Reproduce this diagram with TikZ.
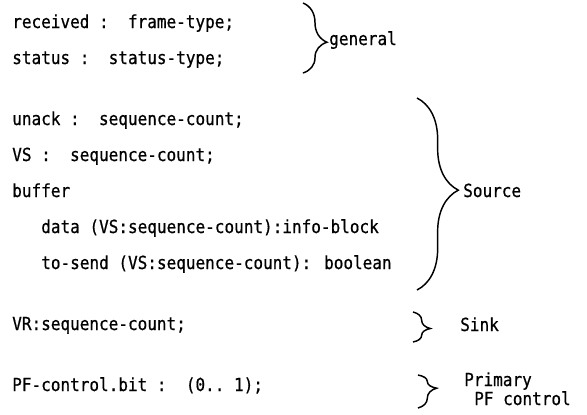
\documentclass[tikz,border=0pt]{standalone}
\usepackage{fontspec}
\newfontfamily\typefont[FakeStretch=0.89, FakeBold=0.6]{DejaVu Sans Mono}
\usetikzlibrary{decorations.pathreplacing}

\tikzset{
    decl/.style={anchor=base west, inner sep=0pt, font=\typefont\fontsize{13.5pt}{16pt}\selectfont},
    groupbrace/.style={line width=1.1pt, decorate, decoration={brace, amplitude=#1}},
}

\begin{document}
\begin{tikzpicture}[x=0.75pt, y=-0.75pt]
    \useasboundingbox (0,0) rectangle (587,415);

    \node[decl] (recv) at (12,28) {received :~~frame-type;};
    \node[decl] (status) at (12,64) {status :~~status-type;};

    \node[decl] (unack) at (12,125) {unack :~~sequence-count;};
    \node[decl] (vs) at (12,161) {VS :~~sequence-count;};
    \node[decl] (buffer) at (12,197) {buffer};
    \node[decl] (data) at (41,233) {data (VS:sequence-count):info-block};
    \node[decl] (tosend) at (41,269) {to-send (VS:sequence-count): boolean};

    \node[decl] (vr) at (12,330) {VR:sequence-count;};

    \node[decl] (pfbit) at (12,391) {PF-control.bit :~~(0..~1);};

    \draw[groupbrace=18, decoration={aspect=0.56}] (303,3) -- (303,73);
    \node[decl] (general) at (329,45) {general};

    \draw[groupbrace=31, decoration={aspect=0.48}] (417,98) -- (417,290);
    \node[decl] (source) at (463,197) {Source};

    \draw[groupbrace=13, decoration={aspect=0.55}] (413,312) -- (413,342);
    \node[decl] (sink) at (460,331) {Sink};

    \draw[groupbrace=14, decoration={aspect=0.4}] (418,375) -- (418,408);
    \node[decl] (primary) at (464,386) {Primary};
    \node[decl] (pfcontrol) at (474,405) {PF control};
\end{tikzpicture}
\end{document}
